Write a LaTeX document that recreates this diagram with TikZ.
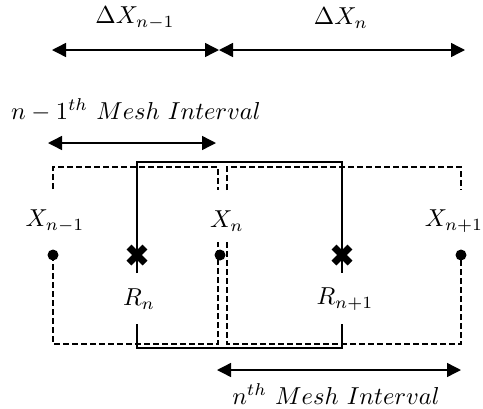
\documentclass[tikz,border=0pt]{standalone}
\usetikzlibrary{arrows.meta}
\newcommand{\mylbl}[1]{\scalebox{2.45}{#1}}
\begin{document}
\begin{tikzpicture}[x=1pt,y=-1pt,
  lbl/.style={inner sep=0pt},
  dim/.style={{Triangle[length=14pt,width=14pt]}-{Triangle[length=14pt,width=14pt]},line width=1.4pt},
  dbox/.style={line width=1.8pt,dash pattern=on 6pt off 3pt},
  sbox/.style={line width=2pt},
  crs/.style={line width=7pt},
  dotc/.style={fill=black}]
\useasboundingbox (0,0) rectangle (483,408);
% top dimension arrows
\coordinate (a1) at (52,50);
\coordinate (a2) at (219,50);
\coordinate (a3) at (465,50);
\draw[dim] (a1) -- (a2);
\draw[dim] (a2) -- (a3);
\node[lbl] (dx1) at (135,18) {\mylbl{$\Delta X_{n-1}$}};
\node[lbl] (dx2) at (341,18) {\mylbl{$\Delta X_{n}$}};
% n-1 th mesh interval
\node[lbl] (m1) at (136,110) {\mylbl{$n-1^{th}\ Mesh\ Interval$}};
\coordinate (b1) at (48,143);
\coordinate (b2) at (216,143);
\draw[dim] (b1) -- (b2);
% solid box
\draw[sbox] (137,273) -- (137,162) -- (342,162) -- (342,273);
\draw[sbox] (137,324) -- (137,348) -- (342,348) -- (342,324);
% left dashed box
\draw[dbox] (53,189) -- (53,167) -- (218,167) -- (218,190);
\draw[dbox] (53,255) -- (53,344) -- (218,344) -- (218,242);
% right dashed box
\draw[dbox] (227,190) -- (227,167) -- (461,167) -- (461,190);
\draw[dbox] (227,242) -- (227,344) -- (461,344) -- (461,255);
% dots
\fill[dotc] (53,255) circle (5.5);
\fill[dotc] (220,255) circle (5.5);
\fill[dotc] (461,255) circle (5.5);
% crosses
\draw[crs] (129,247) -- (145,263) (129,263) -- (145,247);
\draw[crs] (334,247) -- (350,263) (334,263) -- (350,247);
% labels
\node[lbl] (xn1) at (55,221) {\mylbl{$X_{n-1}$}};
\node[lbl] (xn) at (227,221) {\mylbl{$X_{n}$}};
\node[lbl] (xn2) at (454,221) {\mylbl{$X_{n+1}$}};
\node[lbl] (rn) at (139,299) {\mylbl{$R_{n}$}};
\node[lbl] (rn1) at (345,299) {\mylbl{$R_{n+1}$}};
% nth mesh interval
\coordinate (c1) at (217,370);
\coordinate (c2) at (461,370);
\draw[dim] (c1) -- (c2);
\node[lbl] (m2) at (336,394) {\mylbl{$n^{th}\ Mesh\ Interval$}};
\end{tikzpicture}
\end{document}
